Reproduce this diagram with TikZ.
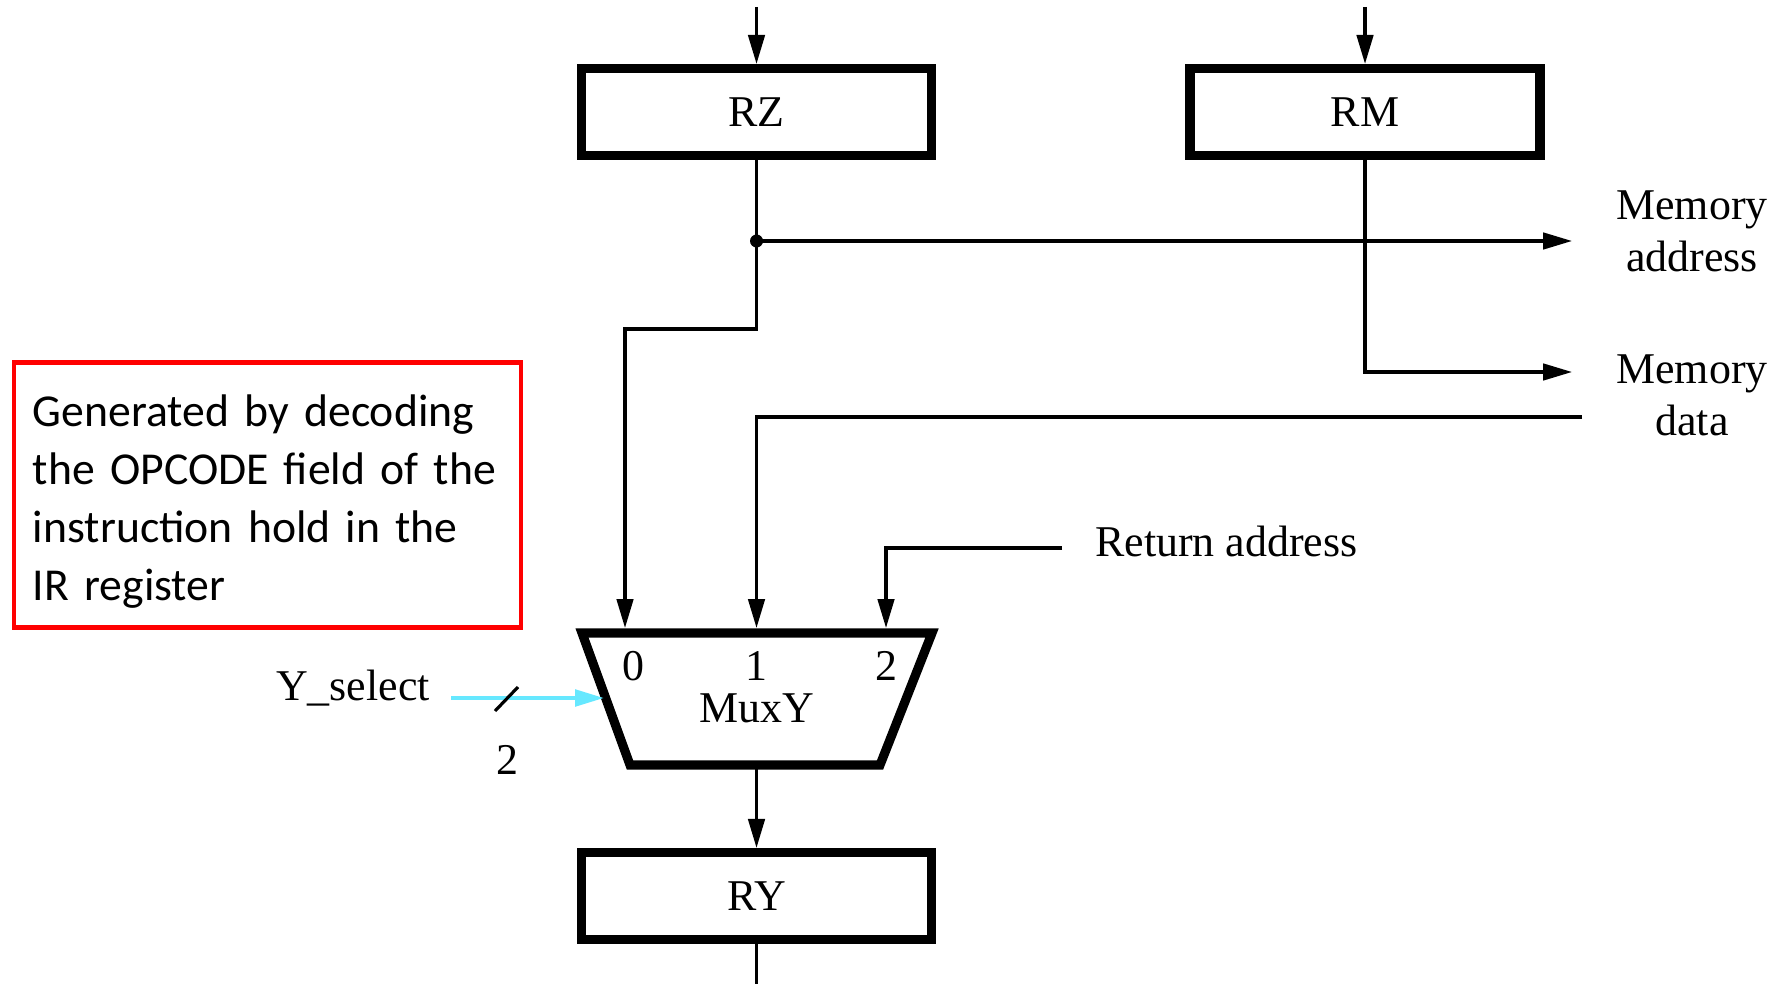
\documentclass[tikz,border=0pt]{standalone}
\usepackage{fontspec}
\setmainfont{Liberation Serif}
\newfontfamily\notefont{Carlito}
\usepackage{xcolor}
\usetikzlibrary{arrows.meta, positioning}
\definecolor{selcyan}{RGB}{102,232,255}
\definecolor{notered}{RGB}{255,0,0}

\begin{document}
\begin{tikzpicture}[
  font=\fontsize{12.5}{14.8}\selectfont, >={Triangle[length=2.9mm, width=1.65mm]},
  reg/.style={draw, line width=2.6pt, minimum width=3.5cm, minimum height=0.87cm, inner sep=0pt},
  note/.style={draw=notered, line width=1.4pt, align=left, text width=4.69cm,
               minimum width=5.07cm, minimum height=2.64cm, inner sep=0.19cm,
               font=\notefont\fontsize{13}{16.5}\selectfont},
  ar/.style={->, line width=0.9pt}, wire/.style={line width=0.9pt},
  lbl/.style={align=center, inner sep=1pt},
]
\useasboundingbox (0,0) rectangle (17.85,9.84);
\node[reg] (rz) at (7.565,8.72) {RZ};
\node[reg] (rm) at (13.65,8.72) {RM};
\node[reg] (ry) at (7.565,0.88) {RY};
\coordinate (rzin) at (7.565,9.77); \coordinate (rmin) at (13.65,9.77);
\coordinate (jn) at (7.565,7.43);
\coordinate (maddr) at (15.72,7.43); \coordinate (mdout) at (15.72,6.12);
\coordinate (mdin) at (15.82,5.67); \coordinate (retin) at (10.62,4.36);
\coordinate (in0) at (6.25,3.56); \coordinate (in1) at (7.565,3.56); \coordinate (in2) at (8.86,3.56);
\coordinate (muxout) at (7.565,2.15); \coordinate (ryout) at (7.565,0);
\coordinate (ysel) at (4.51,2.86); \coordinate (selend) at (6.04,2.86);
\coordinate (tla) at (4.95,2.73); \coordinate (tlb) at (5.18,2.97);
\draw[line width=2.6pt] (5.82,3.51) coordinate (mtl) -- (9.32,3.51) coordinate (mtr)
  -- (8.80,2.19) coordinate (mbr) -- (6.30,2.19) coordinate (mbl) -- cycle;
\node (m0) at (6.33,3.18) {0};
\node (m1) at (7.565,3.18) {1};
\node (m2) at (8.86,3.18) {2};
\node (mux) at (7.565,2.76) {MuxY};
\node[note] (note) at (2.675,4.89) {\rule{0pt}{13pt}Generated by decoding\\the OPCODE field of the\\instruction hold in the\\IR register};
\node[lbl] (maddrt) at (16.92,7.53) {Memory\\address};
\node[lbl] (mdatat) at (16.92,5.89) {Memory\\data};
\node[lbl, anchor=west] (rett) at (10.91,4.43) {Return address};
\node (yselt) at (3.53,2.96) {Y\_select};
\node (selw) at (5.07,2.24) {2};
\draw[ar] (rzin) -- (rz.north); \draw[ar] (rmin) -- (rm.north);
\draw[wire] (rz.south) -- (jn); \fill (jn) circle (0.065);
\draw[ar] (jn) -- (maddr);
\draw[ar] (jn) -- ++(0,-0.88) -| (in0);
\draw[ar] (rm.south) |- (mdout);
\draw[ar] (mdin) -| (in1);
\draw[ar] (retin) -| (in2);
\draw[ar] (muxout) -- (ry.north);
\draw[wire] (ry.south) -- (ryout);
\draw[ar, selcyan, line width=1.1pt] (ysel) -- (selend);
\draw[wire] (tla) -- (tlb);
\end{tikzpicture}
\end{document}
